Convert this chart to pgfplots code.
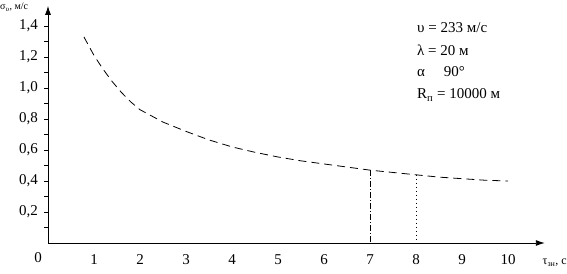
\documentclass[border=0pt]{standalone}
\usepackage{fontspec}
\setmainfont{Liberation Serif}
\usepackage{pgfplots}
\pgfplotsset{compat=1.18}
\usetikzlibrary{arrows.meta}
\begin{document}%
\fontsize{15}{17}\selectfont%
\begin{tikzpicture}[x=1pt,y=1pt]
\useasboundingbox (0,0) rectangle (567,273);
\begin{axis}[
  anchor=origin, at={(48pt,30pt)},
  x=46pt, y=155pt,
  xmin=0, xmax=10.8, ymin=0, ymax=1.53,
  axis lines=left,
  axis line style={line width=0.9pt, -{Latex[length=9pt,width=6pt]}},
  clip=false,
  xtick={1,2,3,4,5,6,7,8,9,10},
  ytick={0.2,0.4,0.6,0.8,1.0,1.2,1.4},
  minor ytick={0.1,0.3,0.5,0.7,0.9,1.1,1.3},
  x tick style={draw=none},
  y tick style={line width=0.8pt, black},
  major tick length=4pt, minor tick length=4pt,
  tick align=outside,
  xticklabel style={yshift=-2pt},
  yticklabel style={xshift=-1pt, /pgf/number format/.cd, fixed, fixed zerofill, precision=1, use comma},
  /pgf/number format/assume math mode=true,
  tick label style={font=\fontsize{15}{17}\selectfont},
]
\addplot[black, line width=0.8pt, dash pattern=on 8pt off 5pt] coordinates {
(0.78,1.33) (1.0,1.21) (1.2,1.12) (1.4,1.04) (1.6,0.97) (1.8,0.91) (2.0,0.86)
(2.5,0.78) (3.0,0.72) (3.5,0.665) (4.0,0.62) (4.5,0.585) (5.0,0.555) (5.5,0.53)
(6.0,0.51) (6.5,0.49) (7.0,0.47) (7.5,0.455) (8.0,0.44) (8.5,0.425) (9.0,0.415)
(9.5,0.405) (10.0,0.40)
};
\addplot[black, line width=0.7pt, dash pattern=on 6pt off 2pt on 1pt off 2pt] coordinates {(7,0.47) (7,0)};
\addplot[black, line width=0.7pt, dash pattern=on 1pt off 3pt] coordinates {(8,0.44) (8,0)};
\end{axis}
\node[anchor=center] at (38,15) {0};
\node[anchor=west, inner sep=0pt, font=\fontsize{10}{12}\selectfont] at (0,266) {σ\textsubscript{υ}, м/с};
\node[anchor=east, inner sep=0pt, font=\fontsize{12}{14}\selectfont] at (567,10) {τ\textsubscript{зн}, с};
\node[anchor=west, inner sep=0pt] at (417,245) {υ = 233 м/с};
\node[anchor=west, inner sep=0pt] at (417,223) {λ = 20 м};
\node[anchor=west, inner sep=0pt] at (417,201) {α \quad 90°};
\node[anchor=west, inner sep=0pt] at (417,178) {R\textsubscript{п} = 10000 м};
\end{tikzpicture}%
\end{document}
